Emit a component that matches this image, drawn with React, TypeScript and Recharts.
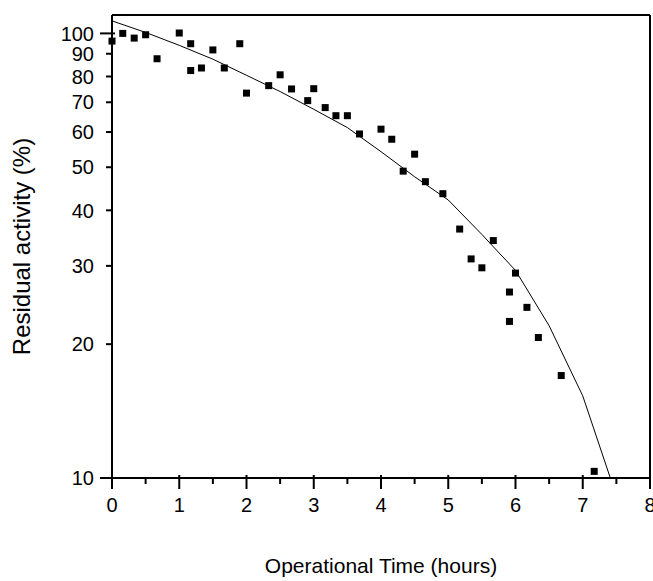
import { ComposedChart, Line, Scatter, XAxis, YAxis, Label } from 'recharts';

// measured residual activity samples
const sampleHours = [
    0, 0.16, 0.33, 0.5, 0.67, 1.0, 1.17, 1.17, 1.33, 1.5, 1.67, 1.9, 2.0, 2.33, 2.5, 2.67, 2.91, 3.0, 3.17, 3.33,
    3.5, 3.68, 4.0, 4.16, 4.33, 4.5, 4.66, 4.92, 5.17, 5.34, 5.5, 5.67, 5.91, 5.91, 6.0, 6.17, 6.34, 6.68, 7.17,
];
const sampleActivity = [
    96.1, 100, 97.6, 99.3, 87.7, 100.2, 94.8, 82.5, 83.6, 91.8, 83.6, 94.8, 73.4, 76.3, 80.7, 75.0, 70.6, 75.1, 68.1, 65.3,
    65.3, 59.4, 60.9, 57.8, 49.0, 53.5, 46.4, 43.6, 36.3, 31.1, 29.7, 34.2, 26.2, 22.5, 28.9, 24.2, 20.7, 17.0, 10.35,
];

// fitted curve
const fitHours = [0, 0.5, 1, 1.5, 2, 2.5, 3, 3.5, 4, 4.5, 5, 5.5, 6, 6.5, 7, 7.41];
const fitActivity = [106.7, 100.5, 94, 87.5, 80.5, 74, 67.5, 61.4, 54.2, 47.6, 42.2, 35.3, 29.3, 22.0, 15.3, 10];

const xTicks = [0, 0.5, 1, 1.5, 2, 2.5, 3, 3.5, 4, 4.5, 5, 5.5, 6, 6.5, 7, 7.5, 8];
const yTicks = [10, 20, 30, 40, 50, 60, 70, 80, 90, 100];

const samples = sampleHours.map((x, i) => ({ x, y: sampleActivity[i] }));
const fit = fitHours.map((x, i) => ({ x, y: fitActivity[i] }));

const FONT = '"Liberation Sans", Arial, sans-serif';

function XTick(props: any) {
    const { x, y, payload } = props;
    const major = Number.isInteger(payload.value);
    return (
        <g>
            <line x1={x} x2={x} y1={major ? y - 3 : y} y2={y + (major ? 11 : 6)} stroke="#000" strokeWidth={2} />
            {major && (
                <text x={x} y={y + 34} textAnchor="middle" fontSize={20} fontFamily={FONT} fill="#000">
                    {payload.value}
                </text>
            )}
        </g>
    );
}

function YTick(props: any) {
    const { x, y, payload } = props;
    const decade = payload.value === 10 || payload.value === 100;
    return (
        <g>
            <line x1={x - (decade ? 12 : 6)} x2={x + (decade ? 3 : 0)} y1={y} y2={y} stroke="#000" strokeWidth={2} />
            <text x={x - 18} y={y} dy="0.36em" textAnchor="end" fontSize={20} fontFamily={FONT} fill="#000">
                {payload.value}
            </text>
        </g>
    );
}

const Square = (props: any) => {
    const { cx, cy } = props;
    return <rect x={cx - 3.5} y={cy - 3.5} width={7} height={7} fill="#000" />;
};

export default function App() {
    return (
        <div style={{ position: 'fixed', left: 0, top: 0, background: '#fff' }}>
            <ComposedChart width={653} height={581} margin={{ top: 14, right: 2, left: 0, bottom: 0 }}>
                <XAxis
                    dataKey="x"
                    type="number"
                    domain={[0, 8]}
                    ticks={xTicks}
                    interval={0}
                    height={103}
                    tickSize={0}
                    tickMargin={0}
                    tickLine={false}
                    axisLine={{ stroke: '#000', strokeWidth: 2 }}
                    tick={<XTick />}
                >
                    <Label
                        content={(p: any) => (
                            <text
                                x={p.viewBox.x + p.viewBox.width / 2}
                                y={p.viewBox.y + 95}
                                textAnchor="middle"
                                fontSize={21}
                                fontFamily={FONT}
                                fill="#000"
                            >
                                Operational Time (hours)
                            </text>
                        )}
                    />
                </XAxis>
                <XAxis
                    xAxisId="top"
                    orientation="top"
                    type="number"
                    domain={[0, 8]}
                    ticks={xTicks}
                    interval={0}
                    height={1}
                    tickSize={3}
                    tick={false}
                    tickLine={{ stroke: '#000' }}
                    axisLine={{ stroke: '#000', strokeWidth: 2 }}
                />
                <YAxis
                    dataKey="y"
                    scale="log"
                    type="number"
                    domain={[10, 110]}
                    ticks={yTicks}
                    interval={0}
                    width={112}
                    tickSize={0}
                    tickMargin={0}
                    tickLine={false}
                    axisLine={{ stroke: '#000', strokeWidth: 2 }}
                    tick={<YTick />}
                >
                    <Label
                        content={(p: any) => {
                            const cy = p.viewBox.y + p.viewBox.height / 2;
                            return (
                                <text
                                    x={30}
                                    y={cy}
                                    transform={`rotate(-90, 30, ${cy})`}
                                    textAnchor="middle"
                                    fontSize={24}
                                    fontFamily={FONT}
                                    fill="#000"
                                >
                                    Residual activity (%)
                                </text>
                            );
                        }}
                    />
                </YAxis>
                <YAxis
                    yAxisId="right"
                    orientation="right"
                    scale="log"
                    type="number"
                    domain={[10, 110]}
                    ticks={yTicks}
                    interval={0}
                    width={1}
                    tickSize={3}
                    tick={false}
                    tickLine={{ stroke: '#000' }}
                    axisLine={{ stroke: '#000', strokeWidth: 2 }}
                />
                <Line
                    data={fit}
                    dataKey="y"
                    type="linear"
                    stroke="#000"
                    strokeWidth={1}
                    dot={false}
                    isAnimationActive={false}
                />
                <Scatter data={samples} dataKey="y" fill="#000" shape={<Square />} isAnimationActive={false} />
            </ComposedChart>
        </div>
    );
}
